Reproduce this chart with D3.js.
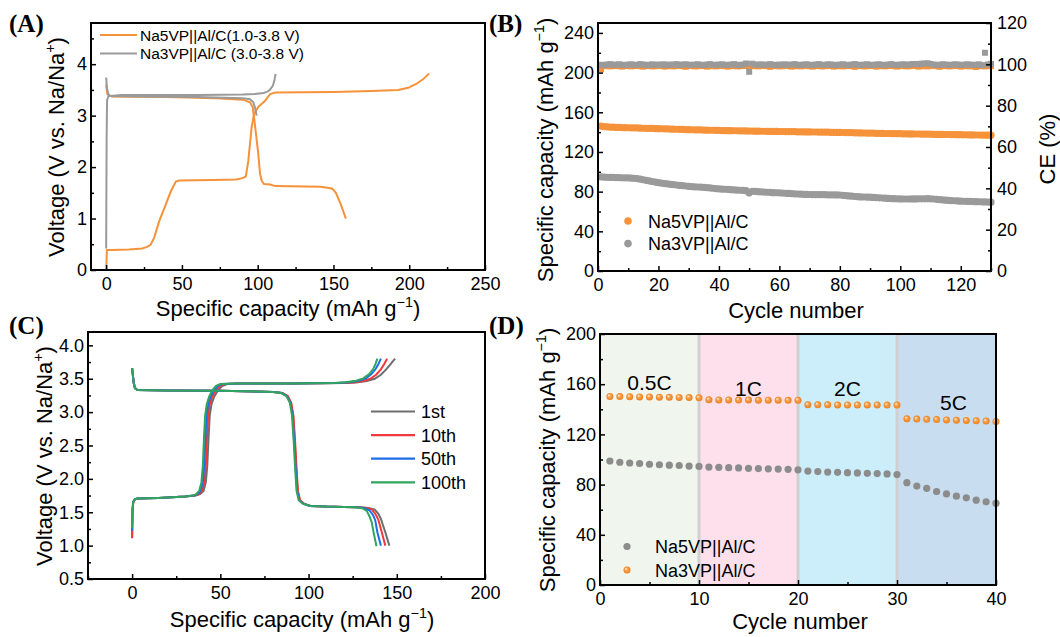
<!DOCTYPE html>
<html><head><meta charset="utf-8">
<script src="https://cdn.jsdelivr.net/npm/d3@7/dist/d3.min.js"></script>
<style>body{margin:0;background:#fff}svg{display:block}</style>
</head><body>
<svg id="c" width="1060" height="637"></svg>
<script>
// ---------------- DATA ----------------
// Panel A: voltage profiles [capacity, voltage]
const aNa5Charge = [[0,0],[0.5,0.39],[3.8,0.39],[15,0.40],[23.8,0.42],[27,0.45],[29.3,0.49],[31.6,0.62],[34.9,0.94],[39.3,1.27],[42.7,1.53],[46,1.72],[48.2,1.74],[70,1.75],[86,1.76],[90.4,1.79],[92.2,1.82],[93.8,2.12],[96,2.77],[97.6,3.03],[100.4,3.17],[104.9,3.29],[108.2,3.42],[111.6,3.45],[150,3.46],[174.9,3.48],[192.7,3.50],[199.3,3.54],[204.9,3.62],[209.3,3.71],[213.1,3.82]];
const aNa5Discharge = [[0,3.60],[0.8,3.42],[3.8,3.37],[40,3.36],[72.7,3.34],[90.4,3.31],[94.9,3.26],[96.7,3.16],[97.6,2.96],[98.9,2.64],[100.4,2.25],[101.6,1.86],[102.7,1.73],[104.2,1.67],[108.2,1.66],[111.6,1.63],[141.6,1.62],[146,1.60],[149.3,1.58],[151.6,1.50],[154.9,1.27],[158.2,1.0]];
const aNa3Charge = [[0,0.42],[0.3,2.5],[0.6,3.3],[1.5,3.38],[10,3.40],[60,3.40],[90,3.41],[98,3.42],[103.8,3.44],[106,3.46],[108,3.50],[110,3.58],[111,3.68],[111.8,3.81]];
const aNa3Discharge = [[0,3.74],[0.5,3.55],[1.1,3.45],[2,3.38],[20,3.37],[60,3.36],[90,3.34],[94.9,3.32],[97.1,3.26],[98.2,3.16],[99.3,3.0]];
const aLegend = ["Na5VP||Al/C(1.0-3.8 V)", "Na3VP||Al/C (3.0-3.8 V)"];

// Panel B: cycling (cycle = index + 1)
const bNa5Cap = [146.0,145.6,145.3,145.1,145.0,144.8,144.7,144.6,144.5,144.4,
144.3,144.2,144.2,144.0,143.9,143.8,143.7,143.7,143.6,143.5,
143.4,143.3,143.2,143.1,143.0,142.9,142.8,142.7,142.6,142.5,
142.4,142.3,142.3,142.2,142.1,142.0,141.9,141.9,141.8,141.7,
141.6,141.6,141.5,141.5,141.4,141.4,141.3,141.3,141.2,141.1,
141.1,141.0,141.0,140.9,140.9,140.8,140.8,140.7,140.7,140.6,
140.6,140.5,140.5,140.4,140.4,140.3,140.3,140.3,140.2,140.2,
140.1,140.1,140.0,140.0,139.9,139.9,139.8,139.8,139.7,139.7,
139.6,139.5,139.5,139.4,139.3,139.3,139.2,139.1,139.0,139.0,
138.9,138.8,138.8,138.7,138.6,138.6,138.5,138.5,138.4,138.4,
138.3,138.3,138.2,138.2,138.1,138.1,138.0,138.0,137.9,137.9,
137.8,137.8,137.7,137.7,137.6,137.6,137.5,137.5,137.4,137.4,
137.3,137.3,137.2,137.2,137.1,137.1,137.0,137.0,136.9,136.9];
const bNa3Cap = [94.8,94.6,94.5,94.4,94.3,94.2,94.1,94.0,93.9,93.8,
93.7,93.5,93.2,92.6,92.0,91.4,90.8,90.2,89.6,89.0,
88.5,88.1,87.8,87.4,87.0,86.7,86.3,86.0,85.7,85.4,
85.1,84.9,84.7,84.5,84.3,84.0,83.7,83.4,83.1,82.8,
82.6,82.4,82.2,82.0,81.8,81.6,81.4,81.2,81.0,78.6,
80.4,80.2,80.0,79.8,79.6,79.4,79.2,79.0,78.9,78.8,
78.6,78.4,78.2,78.0,77.8,77.6,77.4,77.3,77.2,77.1,
77.0,77.0,76.9,76.9,76.9,76.8,76.8,76.8,76.7,76.6,
76.3,76.0,75.7,75.4,75.1,74.9,74.7,74.6,74.5,74.4,
74.2,74.0,73.8,73.6,73.4,73.2,73.0,72.9,72.8,72.7,
72.6,72.6,72.6,72.7,72.7,72.8,72.8,72.8,72.9,72.8,
72.6,72.3,72.0,71.7,71.4,71.2,71.0,70.8,70.6,70.4,
70.3,70.2,70.1,70.0,69.9,69.8,69.7,69.6,69.5,69.4];
const bNa5CE = [97.6,99.1,99.3,99.0,99.2,99.4,99.1,98.9,99.2,99.3,
99.0,99.2,99.4,99.1,98.9,99.2,99.3,99.0,99.1,99.4,
99.2,98.9,99.1,99.3,99.0,99.2,99.4,99.1,98.8,99.2,
99.3,99.0,99.1,99.4,99.2,98.9,99.1,99.3,99.0,99.2,
99.4,99.1,98.9,99.2,99.3,99.0,99.1,99.4,99.2,99.6,
99.1,99.3,99.0,99.2,99.4,99.1,98.8,99.2,99.3,99.0,
99.1,99.4,99.2,98.9,99.1,99.3,99.0,99.2,99.4,99.1,
98.9,99.2,99.3,99.0,99.1,99.4,99.2,98.9,99.1,99.3,
99.0,99.2,99.4,99.1,98.8,99.2,99.3,99.0,99.1,99.4,
99.2,98.9,99.1,99.3,99.0,99.2,99.4,99.1,98.9,99.2,
99.3,99.0,99.1,99.4,99.2,98.9,99.1,99.3,99.0,99.2,
99.4,99.1,98.8,99.2,99.3,99.0,99.1,99.4,99.2,98.9,
99.1,99.3,99.0,99.2,98.7,99.1,99.3,99.0,99.2,99.1];
const bNa3CE = [99.8,99.6,99.9,100.1,99.7,99.9,100.0,99.8,99.6,99.9,
100.0,99.7,99.8,100.1,99.9,99.6,99.8,100.0,99.7,99.9,
99.8,100.0,99.6,99.9,99.8,100.1,99.7,99.9,100.0,99.8,
99.7,99.9,100.0,99.8,99.6,99.9,100.1,99.8,99.7,99.9,
100.0,99.8,99.7,99.9,100.1,99.8,99.6,99.9,100.4,96.4,
100.3,99.9,99.8,100.0,99.7,99.9,100.1,99.8,99.6,99.9,
99.8,100.0,99.7,99.9,100.1,99.8,99.7,99.9,100.0,99.8,
99.6,99.9,100.1,99.8,99.7,100.0,99.9,99.8,99.6,99.9,
100.0,99.8,99.7,99.9,100.1,99.8,99.6,99.9,100.0,99.8,
99.7,99.9,100.0,99.8,99.6,99.9,100.1,99.8,99.7,99.9,
100.0,99.8,99.9,100.1,100.2,100.0,100.3,100.4,100.5,100.2,
99.9,99.7,99.8,100.0,99.9,99.7,99.8,100.0,99.9,99.7,
99.8,100.0,99.9,99.7,99.8,100.0,99.6,105.6,99.9,100.2];
const bLegend = ["Na5VP||Al/C", "Na3VP||Al/C"];

// Panel C: Na5VP||Al/C selected cycles [capacity, voltage]
const cCycles = ["1st", "10th", "50th", "100th"];
const c1stCharge = [[0,1.12],[0.2,1.5],[0.6,1.64],[1.5,1.69],[3,1.705],[15,1.715],[30,1.735],[36,1.75],[38.5,1.77],[40.5,1.82],[41.8,1.95],[42.6,2.2],[43.3,2.6],[44,2.95],[45,3.12],[46.5,3.23],[48.5,3.32],[51,3.39],[54,3.42],[60,3.43],[90,3.43],[120,3.435],[127,3.445],[133,3.465],[137.5,3.5],[141,3.56],[144,3.64],[146.5,3.72],[149,3.80]];
const c10thCharge = [[0,1.11],[0.2,1.5],[0.6,1.64],[1.5,1.69],[3,1.705],[15,1.715],[30,1.735],[35.5,1.75],[37.8,1.77],[39.7,1.82],[41,1.95],[41.8,2.2],[42.4,2.6],[43.1,2.95],[44,3.12],[45.4,3.23],[47.3,3.32],[49.6,3.39],[52.5,3.42],[60,3.43],[90,3.43],[118,3.435],[125,3.445],[131,3.465],[135,3.5],[138.3,3.56],[141,3.64],[142.9,3.72],[144.5,3.80]];
const c50thCharge = [[0,1.22],[0.2,1.52],[0.6,1.65],[1.5,1.69],[3,1.705],[15,1.715],[30,1.735],[35,1.75],[37,1.77],[38.8,1.82],[40.1,1.95],[40.9,2.2],[41.5,2.6],[42.2,2.95],[43.1,3.12],[44.4,3.23],[46.2,3.32],[48.4,3.39],[51,3.42],[60,3.43],[90,3.43],[116,3.435],[123,3.447],[128.5,3.47],[132.5,3.505],[135.5,3.565],[138,3.645],[139.6,3.72],[141,3.80]];
const c100thCharge = [[0,1.26],[0.2,1.54],[0.6,1.66],[1.5,1.695],[3,1.705],[15,1.715],[30,1.735],[34.5,1.75],[36.3,1.77],[38,1.82],[39.3,1.95],[40.1,2.2],[40.7,2.6],[41.4,2.95],[42.3,3.12],[43.6,3.23],[45.3,3.32],[47.4,3.39],[50,3.42],[60,3.43],[90,3.43],[114,3.435],[121,3.447],[127,3.47],[131,3.505],[134.2,3.565],[136.6,3.645],[137.9,3.72],[139,3.80]];
const c1stDischarge = [[0,3.66],[0.4,3.56],[0.9,3.44],[1.6,3.36],[3,3.33],[20,3.325],[50,3.32],[70,3.31],[80,3.30],[85,3.285],[88,3.24],[90,3.14],[91.2,2.95],[92.2,2.55],[93,2.15],[93.8,1.82],[95,1.68],[97.5,1.625],[101,1.595],[110,1.585],[120,1.58],[128,1.575],[134,1.565],[137.5,1.54],[139.5,1.48],[141,1.40],[143.5,1.2],[145.8,1.0]];
const c10thDischarge = [[0,3.66],[0.4,3.56],[0.9,3.44],[1.6,3.36],[3,3.33],[20,3.325],[50,3.32],[70,3.31],[80,3.30],[85.2,3.285],[88.2,3.24],[90.2,3.14],[91.4,2.95],[92.4,2.55],[93.2,2.15],[94,1.82],[95.2,1.68],[97.7,1.625],[101,1.595],[110,1.585],[120,1.58],[128,1.575],[133,1.565],[136,1.54],[138,1.47],[139.5,1.39],[141.5,1.2],[143.5,1.0]];
const c50thDischarge = [[0,3.66],[0.4,3.56],[0.9,3.44],[1.6,3.36],[3,3.33],[20,3.325],[50,3.32],[70,3.31],[80,3.30],[84.7,3.285],[87.7,3.24],[89.7,3.14],[90.9,2.95],[91.9,2.55],[92.7,2.15],[93.5,1.82],[94.7,1.68],[97.2,1.625],[101,1.595],[110,1.585],[120,1.58],[127,1.575],[131.5,1.562],[134.5,1.53],[136.5,1.46],[137.8,1.38],[139,1.2],[141,1.0]];
const c100thDischarge = [[0,3.66],[0.4,3.56],[0.9,3.44],[1.6,3.36],[3,3.33],[20,3.325],[50,3.32],[70,3.31],[80,3.30],[84.4,3.285],[87.4,3.24],[89.4,3.14],[90.6,2.95],[91.6,2.55],[92.4,2.15],[93.2,1.82],[94.4,1.68],[96.9,1.625],[101,1.595],[110,1.585],[120,1.58],[126,1.575],[130.5,1.56],[133,1.52],[134.5,1.44],[135.8,1.35],[137,1.18],[138.5,0.99]];

// Panel D: rate capability (cycle = index + 1)
const dNa5Cap = [98.8,97.8,97.2,96.8,96.2,95.8,95.5,95.2,94.8,94.5,
94.0,93.8,93.5,93.3,93.0,92.8,92.6,92.4,92.2,91.8,
90.8,90.4,90.0,89.8,89.5,89.3,89.0,88.8,88.5,88.0,
81.5,78.8,77.0,74.5,72.6,70.8,69.5,67.6,66.3,65.2];
const dNa3Cap = [150.2,150.1,150.0,149.9,149.8,149.7,149.6,149.5,149.4,149.2,
147.6,147.5,147.5,147.4,147.4,147.3,147.3,147.3,147.2,147.2,
143.7,143.6,143.6,143.5,143.5,143.5,143.4,143.4,143.4,143.4,
132.5,132.2,132.0,131.8,131.5,131.3,131.1,130.9,130.6,130.3];
const dRates = ["0.5C", "1C", "2C", "5C"];
const dRateBounds = [0, 10, 20, 30, 40];
const dLegend = ["Na5VP||Al/C", "Na3VP||Al/C"];

// ---------------- DRAWING ----------------
const svg = d3.select("#c");
const FONT = "'Liberation Sans', Arial, Helvetica, sans-serif";
const ORANGE = "#f5923a", GRAY = "#9a9a9a";

const defs = svg.append("defs");
const rg = defs.append("radialGradient").attr("id","ball").attr("cx","50%").attr("cy","50%").attr("r","50%").attr("fx","32%").attr("fy","30%");
rg.append("stop").attr("offset","0%").attr("stop-color","#fff3e2");
rg.append("stop").attr("offset","45%").attr("stop-color","#f7a04a");
rg.append("stop").attr("offset","100%").attr("stop-color","#e97f22");

function supText(sel, pre, sup, post, fs) {
  sel.append("tspan").text(pre);
  sel.append("tspan").attr("dy", -fs*0.42).attr("font-size", fs*0.65).text(sup);
  sel.append("tspan").attr("dy", fs*0.42).text(post);
}

function axes(g, x, y, box, o) {
  const {l,t,r,b} = box;
  const fs = o.fs || 18;
  const xa = g.append("g").attr("transform",`translate(0,${b})`)
    .call(d3.axisBottom(x).tickValues(o.xMajor).tickSizeInner(-5).tickSizeOuter(0).tickPadding(7).tickFormat(o.xFmt || d3.format("d")));
  const xm = g.append("g").attr("transform",`translate(0,${b})`)
    .call(d3.axisBottom(x).tickValues(o.xMinor).tickSizeInner(-3).tickSizeOuter(0).tickFormat(""));
  const ya = g.append("g").attr("transform",`translate(${l},0)`)
    .call(d3.axisLeft(y).tickValues(o.yMajor).tickSizeInner(-5).tickSizeOuter(0).tickPadding(4).tickFormat(o.yFmt || d3.format("d")));
  const ym = g.append("g").attr("transform",`translate(${l},0)`)
    .call(d3.axisLeft(y).tickValues(o.yMinor).tickSizeInner(-3).tickSizeOuter(0).tickFormat(""));
  [xa,xm,ya,ym].forEach(s => {
    s.select(".domain").remove();
    s.selectAll("line").attr("stroke","#000").attr("stroke-width",1.5);
    s.selectAll("text").attr("font-size",fs).attr("font-family",FONT).attr("fill","#000");
  });
}

function frame(g, box) {
  g.append("rect").attr("x",box.l).attr("y",box.t).attr("width",box.r-box.l).attr("height",box.b-box.t)
    .attr("fill","none").attr("stroke","#000").attr("stroke-width",2);
}

function panelLabel(txt, x, y) {
  svg.append("text").attr("x",x).attr("y",y).attr("font-family","'Liberation Serif','Times New Roman',serif")
    .attr("font-weight","bold").attr("font-size",25).text(txt);
}

function yTitle(x, y, pre, sup, post, fs=22) {
  const t = svg.append("text").attr("transform",`translate(${x},${y}) rotate(-90)`).attr("text-anchor","middle")
    .attr("font-family",FONT).attr("font-size",fs);
  supText(t, pre, sup, post, fs);
  return t;
}
function xTitle(x, y, pre, sup, post, fs=22) {
  const t = svg.append("text").attr("x",x).attr("y",y).attr("text-anchor","middle")
    .attr("font-family",FONT).attr("font-size",fs);
  if (sup) supText(t, pre, sup, post, fs); else t.text(pre);
  return t;
}

// ===== Panel A =====
{
  const box = {l:91, t:23, r:485, b:270};
  const x = d3.scaleLinear().domain([-10,250]).range([box.l, box.r]);
  const y = d3.scaleLinear().domain([0,4.8]).range([box.b, box.t]);
  const g = svg.append("g");
  const lineV = d3.line().x(d=>x(d[0])).y(d=>y(d[1]));
  g.append("path").datum(aNa5Charge).attr("d",lineV).attr("fill","none").attr("stroke",ORANGE).attr("stroke-width",2);
  g.append("path").datum(aNa5Discharge).attr("d",lineV).attr("fill","none").attr("stroke",ORANGE).attr("stroke-width",2);
  g.append("path").datum(aNa3Charge).attr("d",lineV).attr("fill","none").attr("stroke",GRAY).attr("stroke-width",2);
  g.append("path").datum(aNa3Discharge).attr("d",lineV).attr("fill","none").attr("stroke",GRAY).attr("stroke-width",2);
  axes(g, x, y, box, {xMajor:[0,50,100,150,200,250], xMinor:[25,75,125,175,225], yMajor:[0,1,2,3,4], yMinor:[0.5,1.5,2.5,3.5,4.5], fs:18});
  frame(g, box);
  [ORANGE, GRAY].forEach((c,i) => {
    const yy = 35 + i*18.5;
    g.append("line").attr("x1",100).attr("x2",137).attr("y1",yy).attr("y2",yy).attr("stroke",c).attr("stroke-width",2);
    g.append("text").attr("x",140).attr("y",yy+5.5).attr("font-family",FONT).attr("font-size",15.5).text(aLegend[i]);
  });
  xTitle(288, 316, "Specific capacity (mAh g", "−1", ")");
  yTitle(64, 147, "Voltage (V vs. Na/Na", "+", ")");
  panelLabel("(A)", 9, 32);
}

// ===== Panel B =====
{
  const box = {l:598, t:23, r:991, b:271};
  const x = d3.scaleLinear().domain([0,130]).range([box.l, box.r]);
  const y = d3.scaleLinear().domain([0,250]).range([box.b, box.t]);
  const y2 = d3.scaleLinear().domain([0,120]).range([box.b, box.t]);
  const g = svg.append("g");
  defs.append("clipPath").attr("id","clipB").append("rect").attr("x",box.l-4).attr("y",box.t).attr("width",box.r-box.l+8).attr("height",box.b-box.t);
  const pg = g.append("g").attr("clip-path","url(#clipB)");
  pg.selectAll(".ce5").data(bNa5CE).join("rect").attr("x",(d,i)=>x(i+1)-3).attr("y",d=>y2(d)-3).attr("width",6).attr("height",6).attr("fill",ORANGE);
  pg.selectAll(".ce3").data(bNa3CE).join("rect").attr("x",(d,i)=>x(i+1)-3).attr("y",d=>y2(d)-3).attr("width",6).attr("height",6).attr("fill",GRAY);
  pg.selectAll(".c5").data(bNa5Cap).join("circle").attr("cx",(d,i)=>x(i+1)).attr("cy",d=>y(d)).attr("r",3.6).attr("fill",ORANGE);
  pg.selectAll(".c3").data(bNa3Cap).join("circle").attr("cx",(d,i)=>x(i+1)).attr("cy",d=>y(d)).attr("r",3.6).attr("fill",GRAY);
  axes(g, x, y, box, {xMajor:[0,20,40,60,80,100,120], xMinor:[10,30,50,70,90,110,130], yMajor:[0,40,80,120,160,200,240], yMinor:[20,60,100,140,180,220], fs:18});
  const ra = g.append("g").attr("transform",`translate(${box.r},0)`)
    .call(d3.axisRight(y2).tickValues([0,20,40,60,80,100,120]).tickSizeInner(-5).tickSizeOuter(0).tickPadding(6));
  const rm = g.append("g").attr("transform",`translate(${box.r},0)`)
    .call(d3.axisRight(y2).tickValues([10,30,50,70,90,110]).tickSizeInner(-3).tickSizeOuter(0).tickFormat(""));
  [ra,rm].forEach(s => { s.select(".domain").remove(); s.selectAll("line").attr("stroke","#000").attr("stroke-width",1.5);
    s.selectAll("text").attr("font-size",18).attr("font-family",FONT).attr("fill","#000"); });
  frame(g, box);
  [ORANGE, GRAY].forEach((c,i) => {
    const yy = 221 + i*22.6;
    g.append("circle").attr("cx",628).attr("cy",yy).attr("r",3.8).attr("fill",c);
    g.append("text").attr("x",648).attr("y",yy+6.5).attr("font-family",FONT).attr("font-size",18).text(bLegend[i]);
  });
  xTitle(796, 318, "Cycle number", null, null);
  yTitle(553, 150, "Specific capacity (mAh g", "−1", ")");
  svg.append("text").attr("transform","translate(1055,149) rotate(-90)").attr("text-anchor","middle")
    .attr("font-family",FONT).attr("font-size",22).text("CE (%)");
  panelLabel("(B)", 489, 32);
}

// ===== Panel C =====
{
  const box = {l:88, t:332, r:485, b:579};
  const x = d3.scaleLinear().domain([-25,200]).range([box.l, box.r]);
  const y = d3.scaleLinear().domain([0.5,4.2]).range([box.b, box.t]);
  const g = svg.append("g");
  const line = d3.line().x(d=>x(d[0])).y(d=>y(d[1]));
  const cols = ["#6e6e6e", "#f0393a", "#1d6fe6", "#2fa55d"];
  const charges = [c1stCharge, c10thCharge, c50thCharge, c100thCharge];
  const dis = [c1stDischarge, c10thDischarge, c50thDischarge, c100thDischarge];
  cCycles.forEach((n,i) => {
    g.append("path").datum(charges[i]).attr("d",line).attr("fill","none").attr("stroke",cols[i]).attr("stroke-width",2);
    g.append("path").datum(dis[i]).attr("d",line).attr("fill","none").attr("stroke",cols[i]).attr("stroke-width",2);
  });
  axes(g, x, y, box, {xMajor:[0,50,100,150,200], xMinor:[-25,25,75,125,175], yMajor:[0.5,1,1.5,2,2.5,3,3.5,4], yMinor:[0.75,1.25,1.75,2.25,2.75,3.25,3.75], yFmt:d3.format(".1f"), fs:18});
  frame(g, box);
  cCycles.forEach((n,i) => {
    const yy = 411.5 + i*23.6;
    g.append("line").attr("x1",371).attr("x2",415).attr("y1",yy).attr("y2",yy).attr("stroke",cols[i]).attr("stroke-width",2.2);
    g.append("text").attr("x",421).attr("y",yy+6.5).attr("font-family",FONT).attr("font-size",18).text(n);
  });
  xTitle(302, 627, "Specific capacity (mAh g", "−1", ")");
  yTitle(52, 456, "Voltage (V vs. Na/Na", "+", ")");
  panelLabel("(C)", 9, 334);
}

// ===== Panel D =====
{
  const box = {l:600, t:334, r:996, b:585};
  const x = d3.scaleLinear().domain([0,40]).range([box.l, box.r]);
  const y = d3.scaleLinear().domain([0,200]).range([box.b, box.t]);
  const g = svg.append("g");
  const bandCols = ["#f0f6ee", "#fde0ec", "#cbeefa", "#c8ddef"];
  dRates.forEach((r,i) => {
    g.append("rect").attr("x",x(dRateBounds[i])).attr("y",box.t).attr("width",x(dRateBounds[i+1])-x(dRateBounds[i])).attr("height",box.b-box.t).attr("fill",bandCols[i]);
  });
  dRateBounds.slice(1,4).forEach(v => {
    g.append("line").attr("x1",x(v)).attr("x2",x(v)).attr("y1",box.t).attr("y2",box.b).attr("stroke","#d0d0d0").attr("stroke-width",3);
  });
  const rateLbl = [[5,390,"0.5C"],[15,396,"1C"],[25,396,"2C"],[35.7,410,"5C"]];
  rateLbl.forEach(([cx,yy,t]) => g.append("text").attr("x",x(cx)).attr("y",yy).attr("text-anchor","middle").attr("font-family",FONT).attr("font-size",21).text(t));
  g.selectAll(".d5").data(dNa5Cap).join("circle").attr("cx",(d,i)=>x(i+1)).attr("cy",d=>y(d)).attr("r",3.6).attr("fill","#8c8c8c");
  g.selectAll(".d3").data(dNa3Cap).join("circle").attr("cx",(d,i)=>x(i+1)).attr("cy",d=>y(d)).attr("r",3.5).attr("fill","url(#ball)");
  axes(g, x, y, box, {xMajor:[0,10,20,30,40], xMinor:[5,15,25,35], yMajor:[0,40,80,120,160,200], yMinor:[20,60,100,140,180], fs:18});
  frame(g, box);
  g.append("circle").attr("cx",627).attr("cy",546.5).attr("r",3.6).attr("fill","#8c8c8c");
  g.append("text").attr("x",655).attr("y",553).attr("font-family",FONT).attr("font-size",18).text(dLegend[0]);
  g.append("circle").attr("cx",627).attr("cy",570).attr("r",3.5).attr("fill","url(#ball)");
  g.append("text").attr("x",655).attr("y",576.5).attr("font-family",FONT).attr("font-size",18).text(dLegend[1]);
  xTitle(800, 629, "Cycle number", null, null);
  yTitle(555, 460, "Specific capacity (mAh g", "−1", ")");
  panelLabel("(D)", 489, 334);
}
</script>
</body></html>
